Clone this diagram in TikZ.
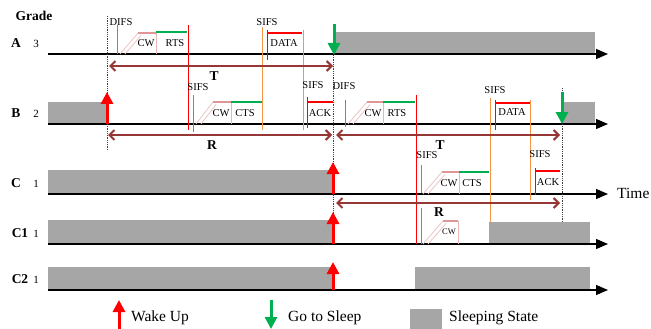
\documentclass[tikz,border=0pt]{standalone}
\usepackage{fontspec}
\setmainfont{Liberation Serif}
\usepackage{xcolor}
\usepackage{tikz}
\usetikzlibrary{arrows.meta}

\definecolor{sleepgray}{RGB}{166,166,166}
\definecolor{wakered}{RGB}{255,0,0}
\definecolor{sleepgreen}{RGB}{0,176,80}
\definecolor{spanbrown}{RGB}{149,55,53}
\definecolor{sifsorange}{RGB}{247,150,70}
\definecolor{cwpink}{RGB}{222,150,150}
\definecolor{ifsred}{RGB}{255,80,80}

\begin{document}
\begin{tikzpicture}[x=1pt,y=-1pt,
    axis/.style={line width=1.1pt,-{Triangle[length=12pt,width=10pt]}},
    sleepbox/.style={fill=sleepgray},
    wake/.style={wakered,line width=3pt,-{Triangle[length=12pt,width=12pt]}},
    gosleep/.style={sleepgreen,line width=3pt,-{Triangle[length=12pt,width=12pt]}},
    span/.style={spanbrown,line width=2pt,{Straight Barb[length=5pt,width=10pt]}-{Straight Barb[length=5pt,width=10pt]}},
    guide/.style={densely dotted,line width=0.8pt,black!75},
    ifs/.style={ifsred,line width=0.9pt},
    bound/.style={wakered,line width=0.9pt},
    orangeline/.style={sifsorange,line width=1pt},
    msgbar/.style={line width=2.2pt},
    small/.style={font=\fontsize{10.5}{12}\selectfont,inner sep=0pt},
    lbl/.style={font=\fontsize{13.5}{15}\selectfont\bfseries,inner sep=0pt},
    grade/.style={font=\fontsize{11}{12}\selectfont,inner sep=0pt},
    legend/.style={font=\fontsize{15.5}{17}\selectfont,inner sep=0pt,anchor=west}]
    			\useasboundingbox (0,0) rectangle (651,329);

    			\foreach \xa/\ya/\xb/\yb in {
    				335/32/595/54,
    				48/102/106/124,
    				563/102/595/124,
    				48/170/333/194,
    				48/220/333/244,
    				489/222/590/244,
    				48/267/333/290,
    				415/267/590/290
       			}{
    				\fill[sleepbox] (\xa,\ya) rectangle (\xb,\yb);
    			}

    			\foreach \y/\n/\g/\lx/\name in {
    				54/A/3/16/A,
    				124/B/2/16/B,
    				194/C/1/16/C,
    				244/C1/1/20/Ca,
    				290/C2/1/20/Cb
       			}{
    				\coordinate (start\name) at (48,\y);
    				\coordinate (end\name) at (608,\y);
    				\draw[axis] (start\name) -- (end\name);
    				\node[lbl] (name\name) at (\lx,\y-11) {\n};
    				\node[grade] (grade\name) at (36,\y-10) {\g};
    			}
    			\node[lbl] (grade) at (34,16) {Grade};
    			\node[font=\fontsize{15.5}{17}\selectfont,anchor=west,inner sep=0pt] (time) at (617,193) {Time};

    			\draw[guide] (107,16) -- (107,150);
    			\draw[guide] (333,55) -- (333,215);
    			\draw[guide] (562,88) -- (562,222);

    			\foreach \a/\b/\c/\d/\e in {
    				120/54/138/156/33,
    				196/124/213/231/102,
    				348/124/367/383/102,
    				423/194/442/459/172,
    				423/244/443/458/221
       			}{
    				\draw[cwpink!55,line width=0.8pt] (\a,\b) -- (\c,\e);
    				\draw[cwpink!55,line width=0.8pt] (\a+5,\b) -- (\c+3,\e+2.5);
    				\draw[cwpink,line width=1.8pt] (\c,\e) -- (\d,\e);
    				\draw[cwpink!70,line width=0.8pt] (\d,\e) -- (\d,\b);
    			}

    			\draw[sleepgreen,msgbar] (156,32) -- (187,32);
    			\draw[sleepgreen,msgbar] (231,102) -- (262,102);
    			\draw[sleepgreen,msgbar] (383,102) -- (415,102);
    			\draw[sleepgreen,msgbar] (459,172) -- (489,172);
    			\draw[wakered,msgbar] (267,33) -- (302,33);
    			\draw[wakered,msgbar] (307,102) -- (333,102);
    			\draw[wakered,msgbar] (495,103) -- (530,103);
    			\draw[wakered,msgbar] (535,171) -- (560,171);

    			\draw[ifs] (117,25) -- (117,54);
    			\draw[ifs] (193,95) -- (193,132);
    			\draw[ifs] (345,100) -- (345,127);
    			\draw[ifs] (421,165) -- (421,193);
    			\draw[ifs] (421,208) -- (421,244);
    			\draw[bound] (267,30) -- (267,60);
    			\draw[bound] (307,97) -- (307,128);
    			\draw[bound] (495,100) -- (495,130);
    			\draw[bound] (535,168) -- (535,195);
    			\draw[bound] (188,25) -- (188,130);
    			\draw[bound] (416,95) -- (416,244);
    			\draw[orangeline] (262,27) -- (262,130);
    			\draw[orangeline] (303,30) -- (303,130);
    			\draw[orangeline] (490,98) -- (490,222);
    			\draw[orangeline] (530,100) -- (530,200);

    			\foreach \name/\x/\y/\txt in {
    				difsA/121/22/DIFS,
    				cwA/146/43/CW,
    				rtsA/175/43/RTS,
    				sifsA/267/22/SIFS,
    				dataA/284/43/DATA,
    				sifsB/198/87/SIFS,
    				cwB/221/113/CW,
    				ctsB/245/113/CTS,
    				sifsBb/313/85/SIFS,
    				ackB/320/113/ACK,
    				difsB/344/86/DIFS,
    				cwBb/373/113/CW,
    				rtsB/397/113/RTS,
    				sifsBc/495/90/SIFS,
    				dataB/512/112/DATA,
    				sifsC/427/155/SIFS,
    				cwC/449/183/CW,
    				ctsC/472/183/CTS,
    				sifsCb/540/154/SIFS,
    				ackC/548/182/ACK
       			}{
    				\node[small] (\name) at (\x,\y) {\txt};
    			}
    			\node[small,font=\fontsize{8.5}{10}\selectfont] (cwCa) at (449,232) {CW};

    			\coordinate (tA) at (109,66);
    			\coordinate (tB) at (333,66);
    			\coordinate (rA) at (108,135);
    			\coordinate (rB) at (332,135);
    			\coordinate (tC) at (336,135);
    			\coordinate (tD) at (560,135);
    			\coordinate (rC) at (336,203);
    			\coordinate (rD) at (560,203);
    			\draw[span] (tA) -- (tB);
    			\draw[span] (rA) -- (rB);
    			\draw[span] (tC) -- (tD);
    			\draw[span] (rC) -- (rD);
    			\foreach \name/\x/\y/\txt in {
    				spanT/214/76/T,
    				spanR/212/145/R,
    				spanTb/440/145/T,
    				spanRb/439/212/R
       			}{
    				\node[lbl] (\name) at (\x,\y) {\txt};
    			}

    			\foreach \x/\ya/\yb in {
    				107/124/92,
    				333/194/162,
    				333/244/212,
    				333/290/262,
    				119/329/300
       			}{
    				\draw[wake] (\x,\ya) -- (\x,\yb);
    			}
    			\foreach \x/\ya/\yb in {
    				334/24/55,
    				562/92/124,
    				271/300/329
       			}{
    				\draw[gosleep] (\x,\ya) -- (\x,\yb);
    			}

    			\fill[sleepbox] (410,309) rectangle (442,329);
    			\node[legend] (wakeup) at (131,318) {Wake Up};
    			\node[legend] (tosleep) at (288,318) {Go to Sleep};
    			\node[legend] (sleeping) at (449,318) {Sleeping State};
    		\end{tikzpicture}
\end{document}
